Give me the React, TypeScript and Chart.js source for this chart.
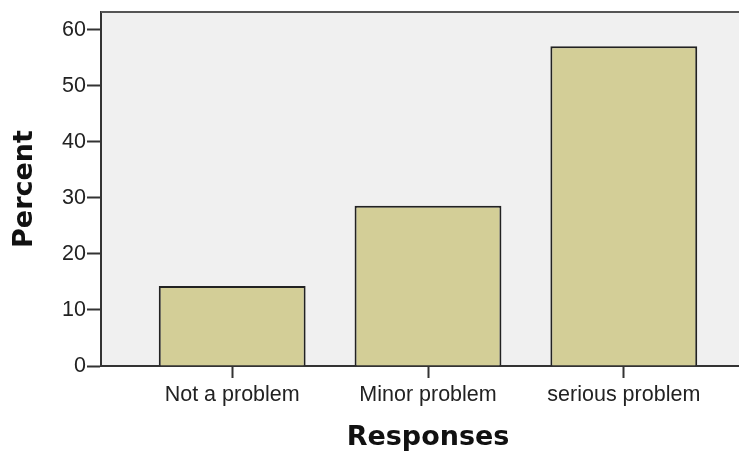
import { useEffect, useRef } from "react";
import { Chart, registerables } from "chart.js";

Chart.register(...registerables);

const categories = ["Not a problem", "Minor problem", "serious problem"];
const percents = [14.3, 28.6, 57.1];
const yTickValues = [0, 10, 20, 30, 40, 50, 60];
const xTitle = "Responses";
const yTitle = "Percent";

export default function App() {
  const ref = useRef<HTMLCanvasElement | null>(null);

  useEffect(() => {
    if (!ref.current) return;
    const plotBg = {
      id: "plotBg",
      beforeDraw(chart: any) {
        const { ctx, chartArea: a } = chart;
        ctx.save();
        ctx.fillStyle = "#f0f0f0";
        ctx.fillRect(a.left, a.top, a.right - a.left, a.bottom - a.top);
        ctx.restore();
      },
      afterDraw(chart: any) {
        const { ctx, chartArea: a } = chart;
        ctx.save();
        ctx.strokeStyle = "#555555";
        ctx.lineWidth = 2;
        ctx.beginPath();
        ctx.moveTo(a.left, a.top);
        ctx.lineTo(a.right, a.top);
        ctx.stroke();
        ctx.restore();
      },
    };

    const tickFont = { family: "'Liberation Sans', Arial, sans-serif", size: 21.5 };
    const titleFont = { family: "'DejaVu Sans', Verdana, sans-serif", size: 27, weight: "bold" as const, lineHeight: 1.1 };

    const chart = new Chart(ref.current, {
      type: "bar",
      data: {
        datasets: [
          {
            data: categories.map((_, i) => ({ x: i, y: percents[i] })),
            backgroundColor: "#d3ce97",
            borderColor: "#222222",
            borderWidth: 2,
            categoryPercentage: 0.75,
            barPercentage: 1,
          },
        ],
      },
      options: {
        animation: false,
        responsive: false,
        layout: { padding: { top: 12, right: 0, bottom: 0, left: 0 } },
        plugins: { legend: { display: false }, tooltip: { enabled: false } },
        scales: {
          x: {
            type: "linear",
            offset: false,
            min: -0.67,
            max: 2.67,
            afterBuildTicks: (s: any) => {
              s.ticks = categories.map((_, i) => ({ value: i }));
            },
            afterFit: (s: any) => {
              s.height = 87;
              s.paddingLeft = 0;
              s.paddingRight = 0;
            },
            ticks: {
              autoSkip: false,
              maxRotation: 0,
              padding: 4,
              color: "#222222",
              font: tickFont,
              callback: (v: any) => categories[v] ?? "",
            },
            grid: {
              offset: false,
              drawOnChartArea: false,
              tickLength: 12,
              tickWidth: 2,
              tickColor: "#333333",
            },
            border: { display: true, color: "#333333", width: 2 },
            title: {
              display: true,
              text: xTitle,
              color: "#111111",
              font: titleFont,
              padding: { top: 0, bottom: 0 },
            },
          },
          y: {
            min: 0,
            max: 63.2,
            afterBuildTicks: (s: any) => {
              s.ticks = yTickValues.map((v) => ({ value: v }));
            },
            afterFit: (s: any) => {
              s.width = 101;
              s.paddingTop = 0;
              s.paddingBottom = 0;
            },
            ticks: {
              padding: 1,
              color: "#222222",
              font: tickFont,
            },
            grid: {
              drawOnChartArea: false,
              tickLength: 14,
              tickWidth: 2,
              tickColor: "#333333",
            },
            border: { display: true, color: "#333333", width: 2 },
            title: {
              display: true,
              text: yTitle,
              color: "#111111",
              font: titleFont,
              padding: { top: 10, bottom: 0 },
            },
          },
        },
      },
      plugins: [plotBg],
    } as any);

    return () => chart.destroy();
  }, []);

  return (
    <div style={{ position: "fixed", left: 0, top: 0, width: 739, height: 453, overflow: "hidden", background: "#ffffff" }}>
      <canvas ref={ref} width={755} height={453} style={{ display: "block" }} />
    </div>
  );
}
